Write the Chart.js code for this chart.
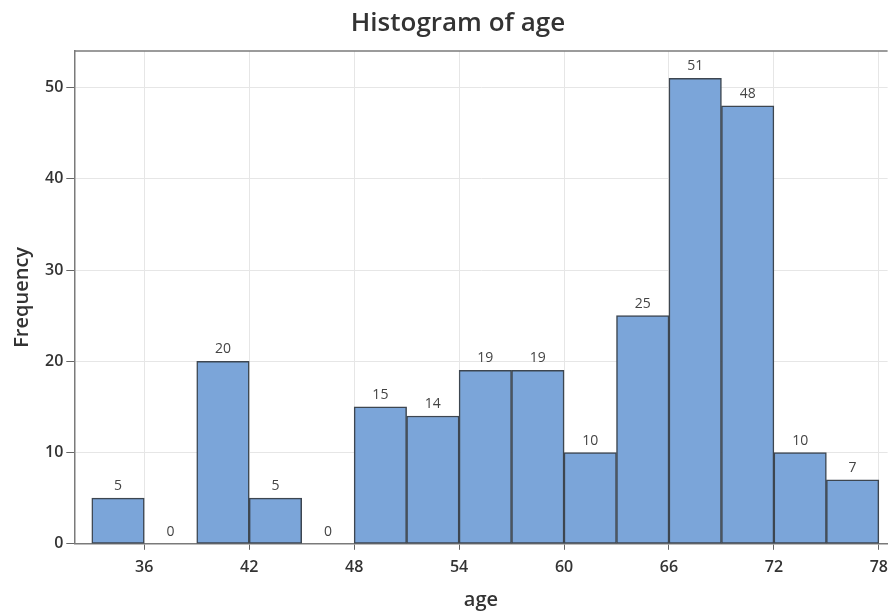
<!DOCTYPE html>
<html>
<head>
<meta charset="utf-8">
<title>Histogram of age</title>
<script src="https://cdn.jsdelivr.net/npm/chart.js@4.4.1/dist/chart.umd.min.js"></script>
<style>
    html, body { margin: 0; padding: 0; background: #ffffff; }
    #wrap { width: 888px; height: 613px; position: relative; }
</style>
</head>
<body>
<div id="wrap"><canvas id="histChart"></canvas></div>
<script>
// bin midpoints (bin width 3)
const binMids = [34.5, 37.5, 40.5, 43.5, 46.5, 49.5, 52.5, 55.5, 58.5, 61.5, 64.5, 67.5, 70.5, 73.5, 76.5];
const counts = [5, 0, 20, 5, 0, 15, 14, 19, 19, 10, 25, 51, 48, 10, 7];
const xTicks = [36, 42, 48, 54, 60, 66, 72, 78];
const yTicks = [0, 10, 20, 30, 40, 50];

const chartTitle = "Histogram of age";
const textColor = "#333333";

// 🟦 title, labels above the bars, top frame line
const extrasPlugin = {
    id: "extras",
    afterDatasetsDraw(chart) {
        const ctx = chart.ctx;
        const area = chart.chartArea;
        const meta = chart.getDatasetMeta(0);

        ctx.save();
        ctx.font = "14px 'Open Sans'";
        ctx.fillStyle = "#444444";
        ctx.textAlign = "center";
        ctx.textBaseline = "bottom";
        meta.data.forEach((bar, i) => {
            ctx.fillText(String(counts[i]), bar.x, bar.y - 5);
        });

        // title sits a bit right of the canvas centre in the original
        ctx.font = "600 26px 'Open Sans'";
        ctx.fillStyle = textColor;
        ctx.textBaseline = "middle";
        ctx.fillText(chartTitle, 458, 24);

        ctx.strokeStyle = "#7a7a7a";
        ctx.lineWidth = 1.5;
        ctx.beginPath();
        ctx.moveTo(area.left, area.top);
        ctx.lineTo(area.right, area.top);
        ctx.stroke();
        ctx.restore();
    }
};

new Chart(document.getElementById("histChart"), {
    type: "bar",
    data: {
        datasets: [{
            label: "Frequency",
            data: binMids.map((m, i) => ({ x: m, y: counts[i] })),
            backgroundColor: "#7ba5d9",
            borderColor: "#3d4650",
            borderWidth: 1.5,
            borderSkipped: false,
            barPercentage: 1,
            categoryPercentage: 1
        }]
    },
    options: {
        responsive: true,
        maintainAspectRatio: false,
        animation: false,
        layout: { padding: { top: 51, right: 0, bottom: 1, left: 10 } },
        plugins: {
            legend: { display: false },
            tooltip: { enabled: false },
            title: { display: false }
        },
        scales: {
            x: {
                type: "linear",
                min: 32,
                max: 78.5,
                offset: false,
                afterBuildTicks: axis => { axis.ticks = xTicks.map(v => ({ value: v })); },
                grid: { offset: false, color: "#e6e6e6", tickColor: "#666666", tickLength: 6, lineWidth: 1 },
                border: { color: "#7a7a7a", width: 1.5 },
                ticks: {
                    color: textColor,
                    // tall line box instead of tick padding, so "78" does not push the plot edge in
                    font: { family: "'Open Sans'", size: 16, weight: "600", lineHeight: 2.2 },
                    padding: 0,
                    maxRotation: 0
                },
                title: {
                    display: true,
                    text: "age",
                    color: textColor,
                    font: { family: "'Open Sans'", size: 20, weight: "600" },
                    padding: { top: 3, bottom: 0 }
                }
            },
            y: {
                min: 0,
                max: 54,
                afterBuildTicks: axis => { axis.ticks = yTicks.map(v => ({ value: v })); },
                grid: { color: "#e6e6e6", tickColor: "#666666", tickLength: 8, lineWidth: 1 },
                border: { color: "#7a7a7a", width: 1.5 },
                ticks: {
                    color: textColor,
                    font: { family: "'Open Sans'", size: 16, weight: "600" },
                    padding: 3
                },
                title: {
                    display: true,
                    text: "Frequency",
                    color: textColor,
                    font: { family: "'Open Sans'", size: 20, weight: "600" },
                    padding: { top: 0, bottom: 8 }
                }
            }
        }
    },
    plugins: [extrasPlugin]
});
</script>
</body>
</html>
